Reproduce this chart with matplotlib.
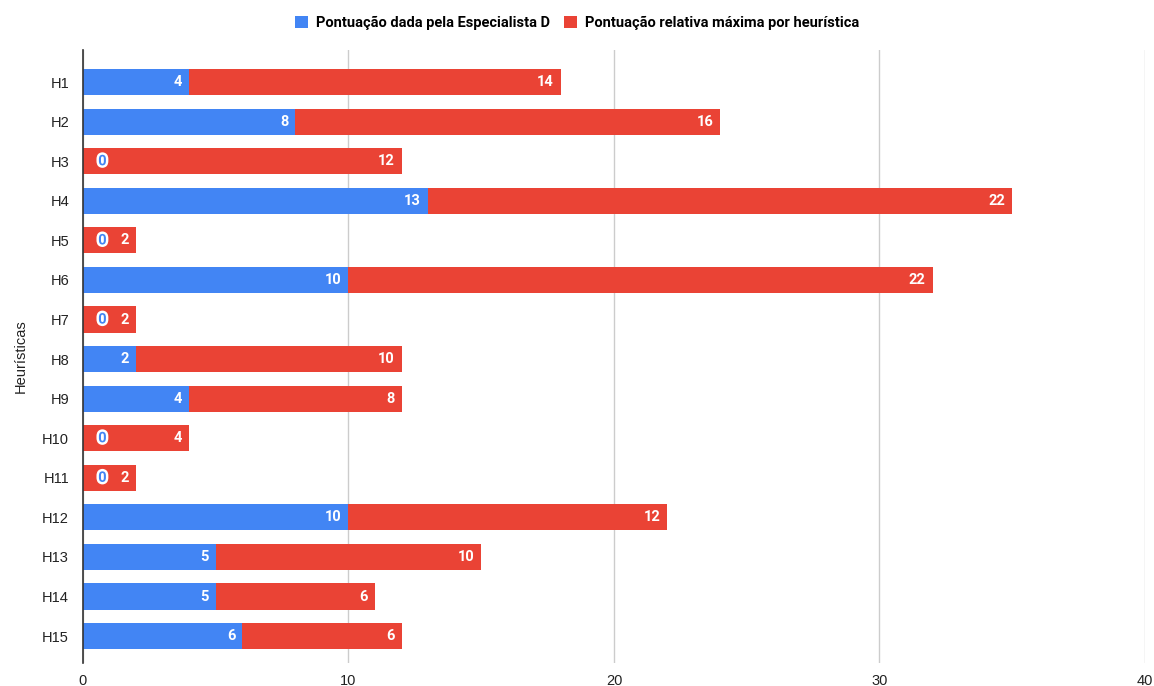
import matplotlib
matplotlib.use('Agg')
import matplotlib.pyplot as plt
import matplotlib.patheffects as pe
import numpy as np

plt.rcParams['font.family'] = ['Liberation Sans', 'DejaVu Sans']

# data
heuristicas = ['H1', 'H2', 'H3', 'H4', 'H5', 'H6', 'H7', 'H8', 'H9', 'H10',
               'H11', 'H12', 'H13', 'H14', 'H15']
pont_especialista = [4, 8, 0, 13, 0, 10, 0, 2, 4, 0, 0, 10, 5, 5, 6]
pont_maxima = [14, 16, 12, 22, 2, 22, 2, 10, 8, 4, 2, 12, 10, 6, 6]

blue = '#4285F4'
red = '#EA4335'

fig = plt.figure(figsize=(11.54, 6.86), dpi=100)
ax = fig.add_axes([0.0719, 0.0335, 0.9203, 0.8935])

y = np.arange(len(heuristicas))
b1 = ax.barh(y, pont_especialista, height=0.66, color=blue,
             label='Pontuação dada pela Especialista D')
b2 = ax.barh(y, pont_maxima, left=pont_especialista, height=0.66, color=red,
             label='Pontuação relativa máxima por heurística')

# value labels
lbl = dict(fontsize=10.5, fontweight='bold', family=['Roboto', 'DejaVu Sans'])
for i, (a, b) in enumerate(zip(pont_especialista, pont_maxima)):
    if a == 0:
        ax.annotate('0', (0, i), xytext=(14, 0), textcoords='offset points',
                    ha='center', va='center', color=blue,
                    path_effects=[pe.withStroke(linewidth=3.5, foreground='white')],
                    **lbl)
    else:
        ax.annotate(str(a), (a, i), xytext=(-5, 0), textcoords='offset points',
                    ha='right', va='center', color='white', **lbl)
    ax.annotate(str(b), (a + b, i), xytext=(-5, 0), textcoords='offset points',
                ha='right', va='center', color='white', **lbl)

ax.set_xlim(0, 40)
ax.set_ylim(14.68, -0.81)
ax.set_xticks([0, 10, 20, 30, 40])
ax.set_yticks(y)
ax.set_yticklabels(heuristicas)
ax.tick_params(axis='both', length=0, labelsize=10.5, colors='#222222')
ax.tick_params(axis='x', pad=8)
ax.tick_params(axis='y', pad=10)
ax.grid(axis='x', color='#cccccc', linewidth=1)
ax.set_axisbelow(True)
for s in ['top', 'right', 'bottom']:
    ax.spines[s].set_visible(False)
ax.spines['left'].set_color('#333333')
ax.spines['left'].set_linewidth(1.2)
ax.spines['left'].set_zorder(5)

ax.set_ylabel('Heurísticas', fontsize=10.5, color='#222222', labelpad=10)

fig.legend(handles=[b1, b2], loc='center', bbox_to_anchor=(0.5, 0.967),
           ncol=2, frameon=False, handlelength=0.9, handleheight=0.9,
           handletextpad=0.5, columnspacing=1.0,
           prop={'family': 'Roboto', 'size': 10.5, 'weight': 'bold'})

fig.savefig('out.png', dpi=100)
